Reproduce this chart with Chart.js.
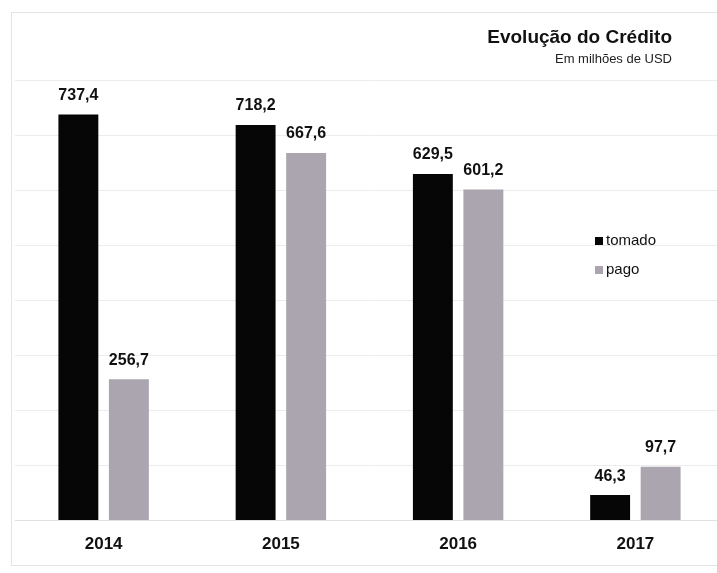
<!DOCTYPE html>
<html>
<head>
<meta charset="utf-8">
<script src="https://cdn.jsdelivr.net/npm/chart.js@4/dist/chart.umd.min.js"></script>
<style>
  html, body { margin: 0; padding: 0; background: #fff; overflow: hidden; }
  #wrap { position: relative; width: 724px; height: 573px; }
</style>
</head>
<body>
<div id="wrap"><canvas id="myChart"></canvas></div>
<script>
const years = ['2014', '2015', '2016', '2017'];
const tomado = [737.4, 718.2, 629.5, 46.3];
const pago = [256.7, 667.6, 601.2, 97.7];
const seriesNames = ['tomado', 'pago'];
const titleText = 'Evolução do Crédito';
const subtitleText = 'Em milhões de USD';

const FONT = '"Liberation Sans", Arial, sans-serif';
const ctx = document.getElementById('myChart').getContext('2d');

// frame, title, legend and value labels
const decorations = {
    id: 'decorations',
    beforeDraw(chart) {
        const c = chart.ctx;
        c.save();
        c.strokeStyle = '#e4e4e4';
        c.lineWidth = 1;
        c.strokeRect(11.5, 12.5, 730, 553);
        c.restore();
    },
    afterDatasetsDraw(chart) {
        const c = chart.ctx;
        c.save();
        // value labels
        c.font = 'bold 16px ' + FONT;
        c.fillStyle = '#111';
        c.textAlign = 'center';
        c.textBaseline = 'bottom';
        chart.data.datasets.forEach((ds, i) => {
            chart.getDatasetMeta(i).data.forEach((bar, j) => {
                c.fillText(ds.data[j].toFixed(1).replace('.', ','), bar.x, bar.y - 11);
            });
        });
        // title
        c.textAlign = 'right';
        c.textBaseline = 'middle';
        c.font = 'bold 19px ' + FONT;
        c.fillText(titleText, 672, 38);
        c.font = '13px ' + FONT;
        c.fillStyle = '#222';
        c.fillText(subtitleText, 672, 59);
        // legend
        c.textAlign = 'left';
        c.font = '15px ' + FONT;
        chart.data.datasets.forEach((ds, i) => {
            const y = 241 + i * 29;
            c.fillStyle = ds.backgroundColor;
            c.fillRect(595, y - 4, 8, 8);
            c.fillStyle = '#111';
            c.fillText(seriesNames[i], 606, y);
        });
        c.restore();
    }
};

new Chart(ctx, {
    type: 'bar',
    data: {
        labels: years,
        datasets: [{
            label: seriesNames[0],
            data: tomado,
            backgroundColor: '#060606',
            categoryPercentage: 0.57,
            barPercentage: 0.79,
        }, {
            label: seriesNames[1],
            data: pago,
            backgroundColor: '#aaa5ae',
            categoryPercentage: 0.57,
            barPercentage: 0.79,
        }],
    },
    options: {
        responsive: true,
        maintainAspectRatio: false,
        animation: false,
        layout: {
            padding: { left: 15, right: 0, top: 80, bottom: 12 },
        },
        plugins: {
            legend: { display: false },
            title: { display: false },
            tooltip: { enabled: false },
        },
        scales: {
            x: {
                grid: { display: false },
                border: { display: true, color: '#e0e0e0' },
                ticks: {
                    color: '#111',
                    font: { family: FONT, size: 17, weight: 'bold' },
                    padding: 6,
                },
            },
            y: {
                min: 0,
                max: 800,
                ticks: { display: false, stepSize: 100 },
                grid: { color: '#ececec', drawTicks: false },
                border: { display: false },
            },
        },
    },
    plugins: [decorations],
});
</script>
</body>
</html>
